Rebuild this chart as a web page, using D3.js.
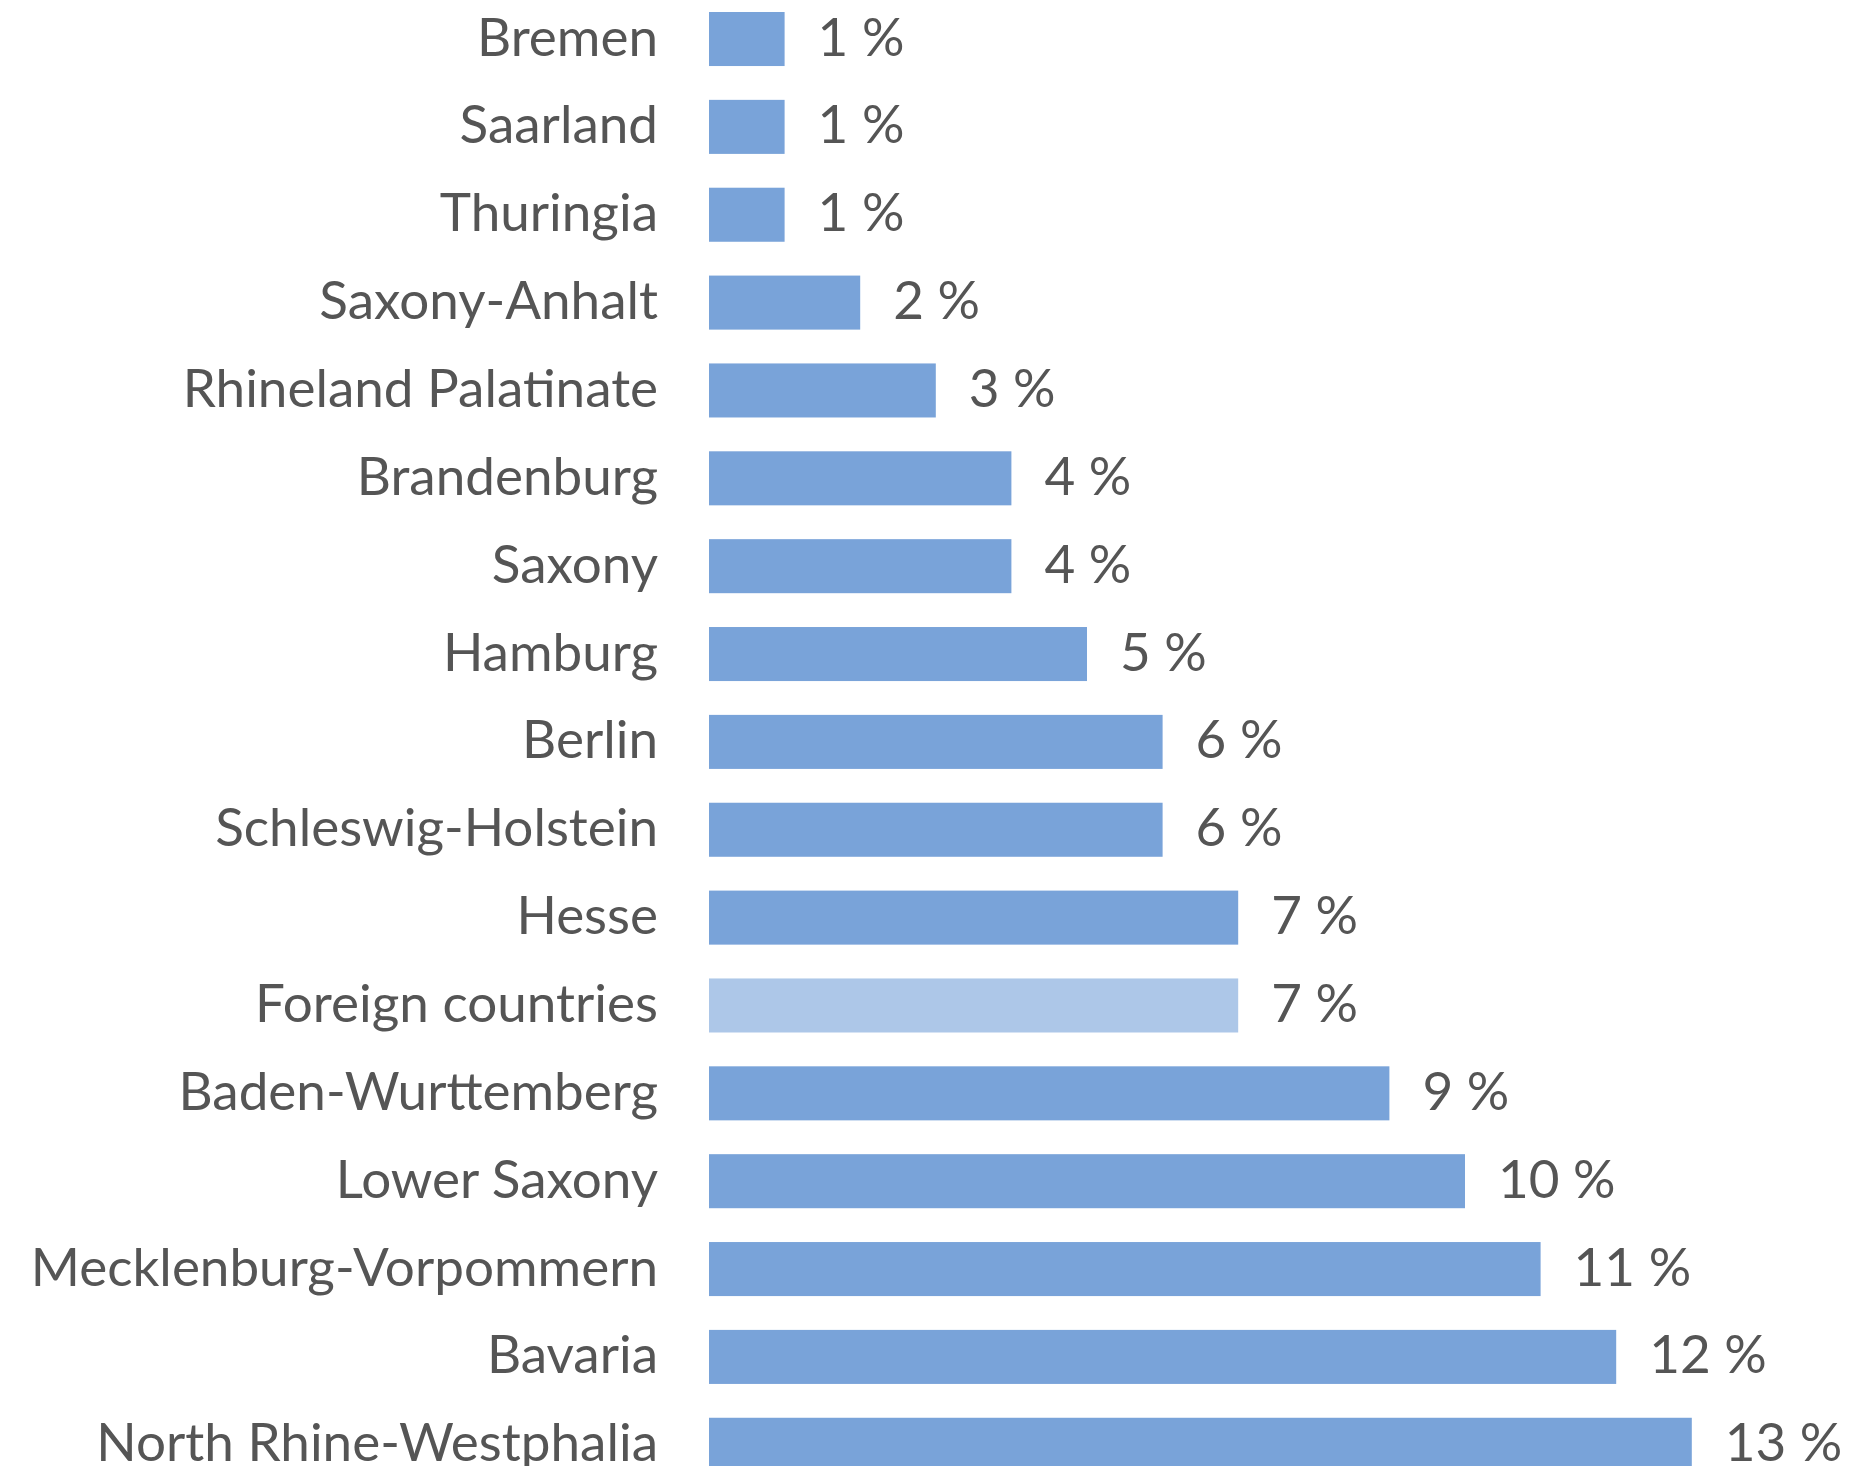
<!DOCTYPE html>
<html>
<head>
<meta charset="utf-8">
<script src="https://cdn.jsdelivr.net/npm/d3@7"></script>
<style>
  html, body { margin: 0; padding: 0; background: #fff; overflow: hidden; }
  svg { display: block; }
</style>
</head>
<body>
<svg id="chart" width="1860" height="1466"></svg>
<script>
// states (and abroad), top to bottom
const regions = [
  "Bremen", "Saarland", "Thuringia", "Saxony-Anhalt", "Rhineland Palatinate",
  "Brandenburg", "Saxony", "Hamburg", "Berlin", "Schleswig-Holstein", "Hesse",
  "Foreign countries", "Baden-Wurttemberg", "Lower Saxony",
  "Mecklenburg-Vorpommern", "Bavaria", "North Rhine-Westphalia"
];
const shares = [1, 1, 1, 2, 3, 4, 4, 5, 6, 6, 7, 7, 9, 10, 11, 12, 13];
const highlighted = ["Foreign countries"];

const data = regions.map((r, i) => ({ region: r, value: shares[i] }));

const svg = d3.select("#chart");
const font = "Lato, 'Noto Sans', sans-serif";
const text_color = "#555555";
const font_size = 53;
const text_shift = -4;

const bar_left = 709;
const per_point = 75.6;

const x = d3.scaleLinear()
  .domain([0, 13])
  .range([bar_left, bar_left + 13 * per_point]);

const step = 87.86;
const pad = 0.385;
const y0 = 12 - (pad / 2) * step;
const y = d3.scaleBand()
  .domain(regions)
  .range([y0, y0 + regions.length * step])
  .paddingInner(pad)
  .paddingOuter(pad / 2);

// bars
svg.append("g")
  .selectAll("rect")
  .data(data)
  .join("rect")
  .attr("x", x(0))
  .attr("y", d => y(d.region))
  .attr("width", d => x(d.value) - x(0))
  .attr("height", y.bandwidth())
  .attr("fill", d => highlighted.includes(d.region) ? "#adc7e8" : "#79a3d9");

// category labels
svg.append("g")
  .selectAll("text")
  .data(data)
  .join("text")
  .attr("x", x(0) - 51)
  .attr("y", d => y(d.region) + y.bandwidth() / 2 + text_shift)
  .attr("text-anchor", "end")
  .attr("dominant-baseline", "central")
  .attr("font-family", font)
  .attr("font-size", font_size)
  .attr("fill", text_color)
  .text(d => d.region);

// value labels
svg.append("g")
  .selectAll("text")
  .data(data)
  .join("text")
  .attr("x", d => x(d.value) + 33)
  .attr("y", d => y(d.region) + y.bandwidth() / 2 + text_shift)
  .attr("dominant-baseline", "central")
  .attr("font-family", font)
  .attr("font-size", font_size)
  .attr("fill", text_color)
  .text(d => d.value + " %");
</script>
</body>
</html>
